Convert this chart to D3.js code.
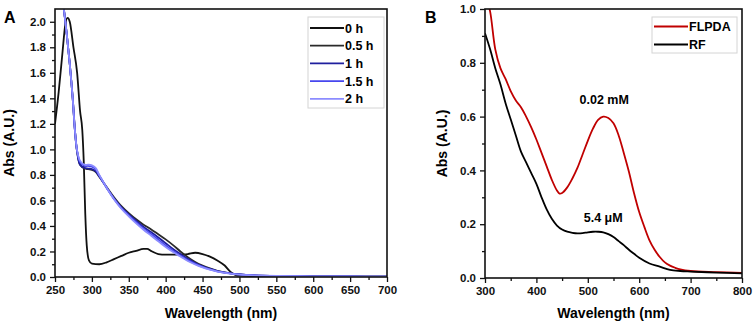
<!DOCTYPE html>
<html>
<head>
<meta charset="utf-8">
<script src="https://cdn.jsdelivr.net/npm/d3@7.9.0/dist/d3.min.js"></script>
<style>
  body { margin: 0; background: #fff; }
  svg { font-family: 'Liberation Sans', Arial, sans-serif; font-weight: bold; }
</style>
</head>
<body>
<svg id="chart" width="754" height="325"></svg>
<script>
// ---- Panel A data: absorbance over time ----
const waveA0 = [250, 255, 260, 264, 267, 270, 275, 280, 284, 287, 289, 291, 293, 296, 300, 310, 320, 330, 340, 350, 360, 370, 375, 380, 390, 400, 410, 420, 430, 440, 450, 460, 470, 480, 488, 495, 500, 550, 600, 700];
const abs0h = [1.2, 1.45, 1.75, 1.98, 2.03, 2.0, 1.8, 1.6, 1.3, 1.15, 0.9, 0.5, 0.25, 0.13, 0.105, 0.1, 0.115, 0.14, 0.165, 0.19, 0.205, 0.22, 0.22, 0.205, 0.18, 0.175, 0.175, 0.175, 0.18, 0.19, 0.18, 0.16, 0.13, 0.09, 0.04, 0.015, 0.01, 0.005, 0.004, 0.003];

const waveA = [258, 262, 266, 270, 274, 277, 280, 284, 290, 295, 300, 305, 310, 320, 330, 340, 350, 360, 370, 380, 390, 400, 410, 420, 430, 440, 450, 460, 470, 480, 490, 500, 520, 550, 600, 650, 700];
const abs05h = [2.3, 2.1, 1.9, 1.67, 1.4, 1.15, 0.98, 0.88, 0.85, 0.845, 0.84, 0.825, 0.785, 0.705, 0.625, 0.555, 0.5, 0.452, 0.41, 0.375, 0.335, 0.295, 0.25, 0.2, 0.155, 0.118, 0.09, 0.067, 0.049, 0.036, 0.027, 0.02, 0.013, 0.008, 0.005, 0.004, 0.003];
const abs1h = [2.3, 2.1, 1.9, 1.67, 1.4, 1.15, 0.98, 0.88, 0.855, 0.85, 0.845, 0.83, 0.79, 0.7, 0.615, 0.545, 0.49, 0.44, 0.392, 0.352, 0.31, 0.265, 0.22, 0.18, 0.142, 0.11, 0.084, 0.063, 0.047, 0.035, 0.027, 0.02, 0.013, 0.008, 0.005, 0.004, 0.003];
const abs15h = [2.3, 2.1, 1.9, 1.67, 1.4, 1.15, 0.99, 0.9, 0.87, 0.87, 0.865, 0.845, 0.795, 0.7, 0.612, 0.54, 0.482, 0.43, 0.38, 0.337, 0.292, 0.247, 0.205, 0.168, 0.132, 0.103, 0.079, 0.06, 0.045, 0.034, 0.026, 0.02, 0.013, 0.008, 0.005, 0.004, 0.003];
const abs2h = [2.3, 2.1, 1.9, 1.67, 1.4, 1.15, 0.99, 0.91, 0.88, 0.88, 0.875, 0.855, 0.8, 0.7, 0.61, 0.535, 0.475, 0.42, 0.37, 0.325, 0.28, 0.235, 0.195, 0.16, 0.125, 0.098, 0.075, 0.057, 0.043, 0.033, 0.025, 0.019, 0.013, 0.008, 0.005, 0.004, 0.003];

const seriesA = [
  { name: '0 h', wave: waveA0, abs: abs0h, color: '#111111' },
  { name: '0.5 h', wave: waveA, abs: abs05h, color: '#2a2a2a' },
  { name: '1 h', wave: waveA, abs: abs1h, color: '#1f1f9e' },
  { name: '1.5 h', wave: waveA, abs: abs15h, color: '#4646ee' },
  { name: '2 h', wave: waveA, abs: abs2h, color: '#8c8cff' },
];

// ---- Panel B data ----
const waveFL = [303, 310, 320, 330, 340, 350, 360, 370, 380, 390, 400, 410, 420, 430, 440, 445, 450, 460, 470, 480, 490, 500, 510, 520, 530, 540, 550, 560, 570, 580, 590, 600, 610, 620, 630, 640, 650, 660, 670, 680, 700, 750, 800];
const absFL = [1.04, 0.99, 0.85, 0.78, 0.74, 0.695, 0.66, 0.635, 0.6, 0.56, 0.515, 0.465, 0.415, 0.365, 0.325, 0.314, 0.316, 0.337, 0.37, 0.41, 0.46, 0.51, 0.555, 0.588, 0.6, 0.595, 0.575, 0.53, 0.465, 0.395, 0.315, 0.245, 0.19, 0.14, 0.105, 0.078, 0.058, 0.046, 0.038, 0.032, 0.026, 0.022, 0.019];
const waveRF = [300, 310, 320, 330, 340, 350, 360, 370, 380, 390, 400, 410, 420, 430, 440, 450, 460, 470, 480, 490, 500, 510, 520, 530, 540, 550, 560, 570, 580, 590, 600, 620, 640, 660, 680, 700, 750, 800];
const absRF = [0.91, 0.85, 0.78, 0.72, 0.65, 0.59, 0.53, 0.47, 0.43, 0.39, 0.35, 0.3, 0.255, 0.22, 0.195, 0.18, 0.172, 0.168, 0.166, 0.167, 0.17, 0.172, 0.172, 0.17, 0.163, 0.152, 0.137, 0.122, 0.105, 0.09, 0.075, 0.054, 0.042, 0.03, 0.026, 0.024, 0.02, 0.017];

const seriesB = [
  { name: 'FLPDA', wave: waveFL, abs: absFL, color: '#c00000' },
  { name: 'RF', wave: waveRF, abs: absRF, color: '#000000' },
];

const svg = d3.select('#chart');

function drawPanel(cfg) {
  const { left, right, top, bottom } = cfg.box;
  const x = d3.scaleLinear().domain(cfg.xDomain).range([left, right]);
  const y = d3.scaleLinear().domain(cfg.yDomain).range([bottom, top]);
  const g = svg.append('g');

  g.append('clipPath').attr('id', cfg.id + '-clip')
    .append('rect').attr('x', left).attr('y', top)
    .attr('width', right - left).attr('height', bottom - top);

  // minor ticks
  g.append('g').attr('transform', `translate(0,${bottom})`)
    .call(d3.axisBottom(x).tickValues(cfg.xMinor).tickSize(3).tickFormat(''))
    .call(a => a.select('.domain').remove());
  g.append('g').attr('transform', `translate(${left},0)`)
    .call(d3.axisLeft(y).tickValues(cfg.yMinor).tickSize(3).tickFormat(''))
    .call(a => a.select('.domain').remove());

  // major ticks + labels
  const xAxis = g.append('g').attr('transform', `translate(0,${bottom})`)
    .call(d3.axisBottom(x).tickValues(cfg.xMajor).tickSize(5).tickPadding(4).tickFormat(d3.format('d')));
  const yAxis = g.append('g').attr('transform', `translate(${left},0)`)
    .call(d3.axisLeft(y).tickValues(cfg.yMajor).tickSize(5).tickPadding(4).tickFormat(d3.format('.1f')));
  [xAxis, yAxis].forEach(a => {
    a.select('.domain').remove();
    a.selectAll('text').attr('font-size', 11.5).attr('font-weight', 'bold')
      .attr('font-family', "'Liberation Sans', Arial, sans-serif").attr('fill', '#111');
  });
  g.selectAll('.tick line').attr('stroke', '#111').attr('stroke-width', 1.3);

  // curves: sharp-edged ones keep monotone, the rest get a smooth spline
  const line = d3.line().x(d => x(d[0])).y(d => y(d[1]));
  g.append('g').attr('clip-path', `url(#${cfg.id}-clip)`)
    .selectAll('path')
    .data(cfg.series)
    .join('path')
    .attr('d', s => line.curve(s.sharp ? d3.curveMonotoneX : d3.curveCatmullRom.alpha(0.5))(
      s.wave.map((w, i) => [w, s.abs[i]])))
    .attr('fill', 'none')
    .attr('stroke', s => s.color)
    .attr('stroke-width', 1.8);

  // frame
  g.append('rect').attr('x', left).attr('y', top)
    .attr('width', right - left).attr('height', bottom - top)
    .attr('fill', 'none').attr('stroke', '#111').attr('stroke-width', 1.6);

  // axis titles and panel letter
  g.append('text').attr('x', (left + right) / 2).attr('y', 318)
    .attr('text-anchor', 'middle').attr('font-size', 14).text('Wavelength (nm)');
  g.append('text').attr('transform', `translate(${cfg.yTitleX},${(top + bottom) / 2}) rotate(-90)`)
    .attr('text-anchor', 'middle').attr('font-size', 14).text('Abs (A.U.)');
  g.append('text').attr('x', cfg.letterX).attr('y', 23)
    .attr('font-size', 16).text(cfg.letter);

  // legend
  const lg = cfg.legend;
  g.append('rect').attr('x', lg.x).attr('y', lg.y).attr('width', lg.w).attr('height', lg.h)
    .attr('fill', '#fff').attr('stroke', '#d4d4d4').attr('stroke-width', 1);
  const items = g.selectAll('.leg').data(cfg.series).join('g')
    .attr('transform', (d, i) => `translate(${lg.x + 2},${lg.y + lg.first + i * lg.step})`);
  items.append('line').attr('x1', 0).attr('x2', 34)
    .attr('stroke', d => d.color).attr('stroke-width', 1.8);
  items.append('text').attr('x', 35).attr('y', 4.5).attr('font-size', 12.5).text(d => d.name);

  return { x, y, g };
}

seriesA[0].sharp = true;

drawPanel({
  id: 'a', letter: 'A', letterX: 4, yTitleX: 14,
  box: { left: 55, right: 387, top: 9, bottom: 277 },
  xDomain: [250, 700], yDomain: [0, 2.1],
  xMajor: d3.range(250, 701, 50), xMinor: d3.range(275, 700, 50),
  yMajor: d3.range(0, 21, 2).map(v => v / 10), yMinor: d3.range(1, 21, 2).map(v => v / 10),
  series: seriesA,
  legend: { x: 308, y: 17, w: 76, h: 91, first: 11, step: 17.7 },
});

const pB = drawPanel({
  id: 'b', letter: 'B', letterX: 425, yTitleX: 447,
  box: { left: 485, right: 742, top: 9, bottom: 278 },
  xDomain: [300, 800], yDomain: [0, 1.0],
  xMajor: d3.range(300, 801, 100), xMinor: d3.range(350, 800, 100),
  yMajor: d3.range(0, 11, 2).map(v => v / 10), yMinor: d3.range(1, 11, 2).map(v => v / 10),
  series: seriesB,
  legend: { x: 652, y: 17, w: 85, h: 36, first: 9.5, step: 18 },
});

// concentration annotations
pB.g.append('text').attr('x', pB.x(532)).attr('y', 104)
  .attr('text-anchor', 'middle').attr('font-size', 12.5).text('0.02 mM');
pB.g.append('text').attr('x', pB.x(530)).attr('y', 222)
  .attr('text-anchor', 'middle').attr('font-size', 12.5).text('5.4 μM');
</script>
</body>
</html>
